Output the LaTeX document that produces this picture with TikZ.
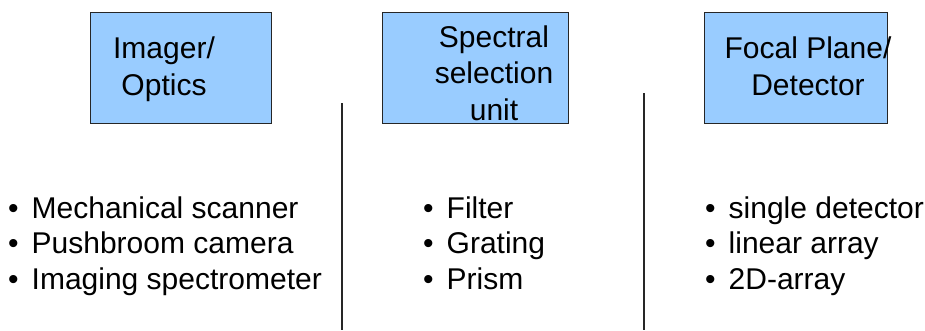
\documentclass[tikz,border=0pt]{standalone}
\usepackage{fontspec}
\setmainfont{Liberation Sans}
% bullet with the wider gap used before each item
\newcommand{\itm}{•\hspace{13pt}}
\begin{document}
\begin{tikzpicture}[x=1pt,y=1pt,
  stage/.style={draw=black!85,line width=1.1pt,fill=blueBox,inner sep=0pt,anchor=north west},
  title/.style={align=center,anchor=base,inner sep=0pt,font=\fontsize{30}{36.5}\selectfont},
  items/.style={align=left,anchor=base west,inner sep=0pt,font=\fontsize{30}{35.5}\selectfont},
  divider/.style={draw=black!85,line width=1.4pt}]
\definecolor{blueBox}{HTML}{99CCFF}
\useasboundingbox (0,0) rectangle (925,-330);

% stage boxes
\node[stage,minimum width=181pt,minimum height=111pt] (imager) at (90,-12) {};
\node[stage,minimum width=186pt,minimum height=111pt] (spectral) at (382,-12) {};
\node[stage,minimum width=183pt,minimum height=111pt] (focal) at (704,-12) {};

% box titles (anchored at the baseline of their last line)
\node[title] (imagerT) at (164,-95) {Imager/\\Optics};
\node[title] (spectralT) at (494,-120) {Spectral\\selection\\unit};
\node[title] (focalT) at (808,-95) {Focal Plane/\\Detector};

% separators between the columns
\coordinate (d1top) at (342,-103);
\coordinate (d1bot) at (342,-330);
\coordinate (d2top) at (644,-93);
\coordinate (d2bot) at (644,-330);
\draw[divider] (d1top) -- (d1bot);
\draw[divider] (d2top) -- (d2bot);

% options listed under each stage
\node[items] (imagerL) at (8,-289) {\itm Mechanical scanner\\\itm Pushbroom camera\\\itm Imaging spectrometer};
\node[items] (spectralL) at (423,-289) {\itm Filter\\\itm Grating\\\itm Prism};
\node[items] (focalL) at (705,-289) {\itm single detector\\\itm linear array\\\itm 2D-array};
\end{tikzpicture}
\end{document}
